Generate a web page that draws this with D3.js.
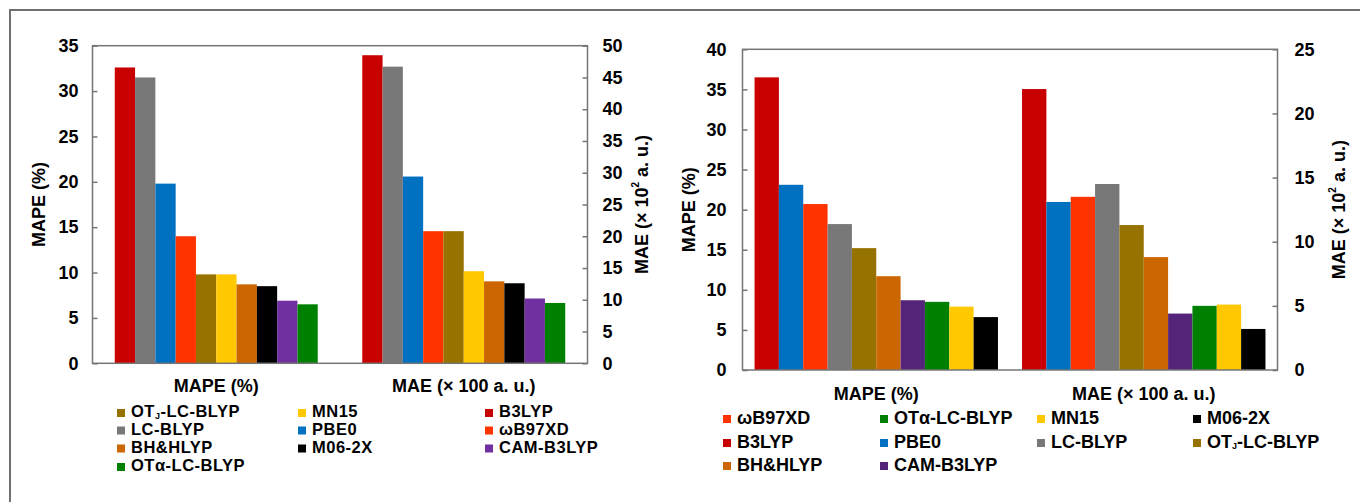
<!DOCTYPE html>
<html>
<head>
<meta charset="utf-8">
<script src="https://cdn.jsdelivr.net/npm/d3@7"></script>
<style>
  body { margin: 0; background: #fff; }
  svg text { font-family: "Liberation Sans", Arial, sans-serif; font-weight: bold; fill: #000; }
</style>
</head>
<body>
<svg id="chart"></svg>
<script>
// Data
const categories = ["MAPE (%)", "MAE (× 100 a. u.)"];

const leftMethods = ["B3LYP", "LC-BLYP", "PBE0", "ωB97XD", "OTJ-LC-BLYP", "MN15", "BH&HLYP", "M06-2X", "CAM-B3LYP", "OTα-LC-BLYP"];
const leftMape = [32.6, 31.5, 19.8, 14.0, 9.8, 9.8, 8.7, 8.5, 6.9, 6.5];
const leftMae = [48.5, 46.7, 29.4, 20.8, 20.8, 14.5, 12.9, 12.6, 10.2, 9.5];
const leftLegend = ["OTJ-LC-BLYP", "MN15", "B3LYP", "LC-BLYP", "PBE0", "ωB97XD", "BH&HLYP", "M06-2X", "CAM-B3LYP", "OTα-LC-BLYP"];
const leftTicksL = [0, 5, 10, 15, 20, 25, 30, 35];
const leftTicksR = [0, 5, 10, 15, 20, 25, 30, 35, 40, 45, 50];

const rightMethods = ["B3LYP", "PBE0", "ωB97XD", "LC-BLYP", "OTJ-LC-BLYP", "BH&HLYP", "CAM-B3LYP", "OTα-LC-BLYP", "MN15", "M06-2X"];
const rightMape = [36.5, 23.1, 20.7, 18.2, 15.2, 11.7, 8.7, 8.5, 7.9, 6.6];
const rightMae = [21.9, 13.1, 13.5, 14.5, 11.3, 8.8, 4.4, 5.0, 5.1, 3.2];
const rightLegend = ["ωB97XD", "OTα-LC-BLYP", "MN15", "M06-2X", "B3LYP", "PBE0", "LC-BLYP", "OTJ-LC-BLYP", "BH&HLYP", "CAM-B3LYP"];
const rightTicksL = [0, 5, 10, 15, 20, 25, 30, 35, 40];
const rightTicksR = [0, 5, 10, 15, 20, 25];

const colors = {
  "B3LYP": "#C80000",
  "LC-BLYP": "#787878",
  "PBE0": "#0070C0",
  "ωB97XD": "#FF3300",
  "OTJ-LC-BLYP": "#967200",
  "MN15": "#FFC800",
  "BH&HLYP": "#CC6600",
  "M06-2X": "#000000",
  "CAM-B3LYP": "#7030A0",
  "OTα-LC-BLYP": "#008000"
};
const colorsRight = Object.assign({}, colors, { "CAM-B3LYP": "#54247A" });

const width = 1360, height = 502;
const svg = d3.select("#chart").attr("width", width).attr("height", height);
svg.append("rect").attr("width", width).attr("height", height).attr("fill", "#fff");
// outer frame
svg.append("rect")
  .attr("x", 10).attr("y", 10)
  .attr("width", width).attr("height", height)
  .attr("fill", "none").attr("stroke", "#707070").attr("stroke-width", 2);

const axisColor = "#767676";
const fs = 18;

// methods named OTJ get a subscript J
const writeName = (sel, name) => {
  if (name.startsWith("OTJ")) {
    sel.append("tspan").text("OT");
    sel.append("tspan").text("J").attr("font-size", 9).attr("dy", 4);
    sel.append("tspan").text(name.slice(3)).attr("dy", -4);
  } else {
    sel.text(name);
  }
};

const maeTitle = (sel) => {
  sel.append("tspan").text("MAE (× 10");
  sel.append("tspan").text("2").attr("font-size", 10).attr("dy", -7);
  sel.append("tspan").text(" a. u.)").attr("dy", 7);
};

const panel = (cfg) => {
  const g = svg.append("g");
  const x0 = d3.scaleBand().domain(categories).range([cfg.x0, cfg.x1])
    .paddingInner(cfg.pad).paddingOuter(cfg.pad / 2);
  const x1 = d3.scaleBand().domain(cfg.methods).range([0, x0.bandwidth()]);
  const yL = d3.scaleLinear().domain([0, d3.max(cfg.ticksL)]).range([cfg.y1, cfg.y0]);
  const yR = d3.scaleLinear().domain([0, d3.max(cfg.ticksR)]).range([cfg.y1, cfg.y0]);
  const series = [cfg.mape, cfg.mae];
  const scales = [yL, yR];

  categories.forEach((c, ci) => {
    g.append("g").selectAll("rect").data(cfg.methods).join("rect")
      .attr("x", (m) => x0(c) + x1(m))
      .attr("y", (m, i) => scales[ci](series[ci][i]))
      .attr("width", x1.bandwidth())
      .attr("height", (m, i) => cfg.y1 - scales[ci](series[ci][i]))
      .attr("fill", (m) => cfg.colors[m]);

    g.append("text")
      .attr("x", x0(c) + x0.bandwidth() / 2)
      .attr("y", cfg.y1 + cfg.catDy)
      .attr("text-anchor", "middle")
      .attr("dominant-baseline", "middle")
      .attr("font-size", fs)
      .text(c);
  });

  // plot frame
  g.append("rect")
    .attr("x", cfg.x0).attr("y", cfg.y0)
    .attr("width", cfg.x1 - cfg.x0).attr("height", cfg.y1 - cfg.y0)
    .attr("fill", "none").attr("stroke", axisColor).attr("stroke-width", 1.5);

  const axL = d3.axisLeft(yL).tickValues(cfg.ticksL).tickSizeInner(-5).tickSizeOuter(0).tickPadding(cfg.padL);
  const axR = d3.axisRight(yR).tickValues(cfg.ticksR).tickSizeInner(-5).tickSizeOuter(0).tickPadding(cfg.padR);
  [[axL, cfg.x0], [axR, cfg.x1]].forEach(([ax, xp]) => {
    const ag = g.append("g").attr("transform", `translate(${xp},0)`).call(ax);
    ag.attr("font-family", null).attr("font-size", null);
    ag.select(".domain").remove();
    ag.selectAll(".tick line").attr("stroke", axisColor).attr("stroke-width", 1.5);
    ag.selectAll(".tick text").attr("font-size", fs).attr("fill", "#000");
  });

  // axis titles
  const cy = (cfg.y0 + cfg.y1) / 2;
  g.append("text")
    .attr("transform", `translate(${cfg.titleL},${cy}) rotate(-90)`)
    .attr("text-anchor", "middle").attr("dominant-baseline", "middle")
    .attr("font-size", fs).text("MAPE (%)");
  g.append("text")
    .attr("transform", `translate(${cfg.titleR},${cy}) rotate(-90)`)
    .attr("text-anchor", "middle").attr("dominant-baseline", "middle")
    .attr("font-size", fs).call(maeTitle);

  // legend
  const lg = g.append("g");
  cfg.legend.forEach((name, i) => {
    const col = i % cfg.legCols.length;
    const row = Math.floor(i / cfg.legCols.length);
    const lx = cfg.legCols[col], ly = cfg.legRows[row];
    lg.append("rect").attr("x", lx).attr("y", ly - 4).attr("width", 8).attr("height", 8)
      .attr("fill", cfg.colors[name]);
    lg.append("text").attr("x", lx + 14).attr("y", ly)
      .attr("dominant-baseline", "middle").attr("font-size", cfg.legFs)
      .attr("letter-spacing", cfg.legLs)
      .call(writeName, name);
  });
};

panel({
  x0: 92.5, x1: 587.5, y0: 45.7, y1: 363.3, pad: 0.18,
  methods: leftMethods, mape: leftMape, mae: leftMae, colors: colors,
  ticksL: leftTicksL, ticksR: leftTicksR, padL: 14, padR: 15,
  catDy: 24, titleL: 40, titleR: 643,
  legend: leftLegend, legCols: [117, 298, 485], legRows: [413, 430.5, 448.5, 467],
  legFs: 16.5, legLs: 0.5
});

panel({
  x0: 742.5, x1: 1277.5, y0: 49.3, y1: 370, pad: 0.09,
  methods: rightMethods, mape: rightMape, mae: rightMae, colors: colorsRight,
  ticksL: rightTicksL, ticksR: rightTicksR, padL: 16, padR: 17,
  catDy: 25, titleL: 690, titleR: 1340,
  legend: rightLegend, legCols: [723, 880, 1037, 1193], legRows: [419, 443, 466],
  legFs: 18, legLs: 0
});
</script>
</body>
</html>
